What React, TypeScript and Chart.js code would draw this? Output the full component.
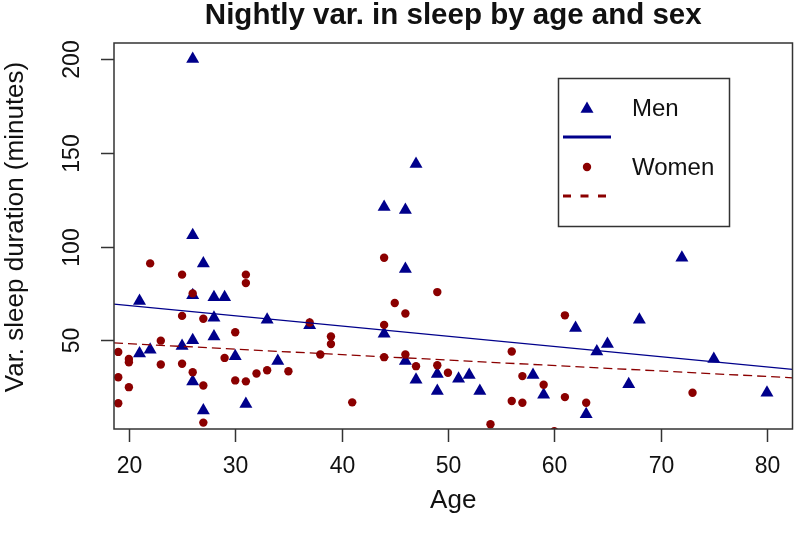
import React, { useEffect, useRef } from "react";
import { Chart, registerables } from "chart.js";

Chart.register(...registerables);

// ---- Data ----
const menAge = [26, 26, 27, 21, 26, 28, 29, 28, 33, 37, 28, 26, 25, 21, 22, 30, 34, 26, 27, 31,
  47, 44, 46, 46, 44, 46, 47, 49, 51, 52, 49, 53, 58, 59, 62, 63, 72, 68, 65, 64, 75, 67, 80];
const menVar = [200, 106, 91, 71, 74, 73, 73, 62, 61, 58, 52, 50, 47, 43, 45, 41.5, 39, 28, 12.5, 16,
  144, 121, 119.5, 88, 53.5, 39, 29, 32, 29.5, 31.5, 23, 23, 31.5, 21, 56.5, 10.5, 94, 61, 48, 44, 40, 26.5, 22];
const womenAge = [22, 25, 31, 31, 26, 25, 27, 30, 39, 39, 23, 19, 20, 20, 23, 25, 29, 38, 26, 35, 33, 32, 19, 30, 31, 27, 20, 19, 27, 37,
  44, 49, 45, 46, 44, 44, 46, 47, 49, 50, 41, 54, 56, 57, 59, 56, 57, 61, 61, 63, 73, 60];
const womenVar = [91, 85, 85, 80.5, 75, 63, 61.5, 54.3, 52, 48, 49.8, 43.8, 40, 38.3, 37.1, 37.5, 40.6, 42.4, 33, 33.5, 34, 32.3, 30.3, 28.6, 28.1, 25.9, 25, 16.4, 6.1, 59.5,
  94, 75.7, 69.9, 64.3, 58.2, 41, 42.4, 36.2, 36.7, 32.7, 16.9, 5.2, 44, 30.9, 26.3, 17.6, 16.7, 19.7, 63.3, 16.7, 22, 1.5];
const fitAge = [18.6, 82.4];
const menFit = [69.3, 34.5];
const womenFit = [48.6, 30.0];
const xTicks = [20, 30, 40, 50, 60, 70, 80];
const yTicks = [50, 100, 150, 200];
const titleText = "Nightly var. in sleep by age and sex";
const xTitle = "Age";
const yTitle = "Var. sleep duration (minutes)";
const legendLabels = ["Men", "Women"];

const MEN = "#00008B";
const WOMEN = "#8B0000";
const FONT = '"Liberation Sans", Arial, sans-serif';

const rPlot = {
  id: "rPlot",
  afterDraw(chart: any) {
    const { ctx, chartArea: a, scales } = chart;
    const x = scales.x;
    const y = scales.y;
    ctx.save();
    // box
    ctx.strokeStyle = "#333";
    ctx.lineWidth = 1.5;
    ctx.strokeRect(a.left, a.top, a.right - a.left, a.bottom - a.top);
    ctx.fillStyle = "#111";
    ctx.font = `23px ${FONT}`;
    ctx.textAlign = "center";
    ctx.textBaseline = "middle";
    // x ticks
    xTicks.forEach((v) => {
      const px = Math.round(x.getPixelForValue(v)) + 0.5;
      ctx.beginPath();
      ctx.moveTo(px, a.bottom);
      ctx.lineTo(px, a.bottom + 13);
      ctx.stroke();
      ctx.fillText(String(v), px, 467);
    });
    // y ticks
    yTicks.forEach((v) => {
      const py = Math.round(y.getPixelForValue(v)) + 0.5;
      ctx.beginPath();
      ctx.moveTo(a.left, py);
      ctx.lineTo(a.left - 13, py);
      ctx.stroke();
      ctx.save();
      ctx.translate(73, py);
      ctx.rotate(-Math.PI / 2);
      ctx.fillText(String(v), 0, 0);
      ctx.restore();
    });
    // axis titles
    const cx = (a.left + a.right) / 2;
    ctx.font = `26px ${FONT}`;
    ctx.fillText(xTitle, cx, 501);
    ctx.save();
    ctx.translate(16, 227);
    ctx.rotate(-Math.PI / 2);
    ctx.fillText(yTitle, 0, 0);
    ctx.restore();
    // title
    ctx.font = `bold 29.5px ${FONT}`;
    ctx.fillText(titleText, cx, 16);
    // legend
    ctx.strokeStyle = "#333";
    ctx.lineWidth = 1.5;
    ctx.strokeRect(558.5, 78.5, 171, 148);
    const tri = (cxp: number, cyp: number, r: number) => {
      ctx.beginPath();
      ctx.moveTo(cxp, cyp - r);
      ctx.lineTo(cxp + r * Math.sin(Math.PI / 3), cyp + r / 2);
      ctx.lineTo(cxp - r * Math.sin(Math.PI / 3), cyp + r / 2);
      ctx.closePath();
      ctx.fill();
    };
    ctx.fillStyle = MEN;
    tri(587, 109, 7.5);
    ctx.strokeStyle = MEN;
    ctx.lineWidth = 3;
    ctx.beginPath();
    ctx.moveTo(563, 137);
    ctx.lineTo(611, 137);
    ctx.stroke();
    ctx.fillStyle = WOMEN;
    ctx.beginPath();
    ctx.arc(587, 167, 4.2, 0, Math.PI * 2);
    ctx.fill();
    ctx.strokeStyle = WOMEN;
    ctx.setLineDash([8, 9.5]);
    ctx.beginPath();
    ctx.moveTo(563, 196);
    ctx.lineTo(609, 196);
    ctx.stroke();
    ctx.setLineDash([]);
    ctx.fillStyle = "#111";
    ctx.textAlign = "left";
    ctx.font = `24px ${FONT}`;
    ctx.fillText(legendLabels[0], 632, 109);
    ctx.fillText(legendLabels[1], 632, 168);
    ctx.restore();
  },
};

export default function App() {
  const ref = useRef<HTMLCanvasElement | null>(null);
  useEffect(() => {
    if (!ref.current) return;
    const chart = new Chart(ref.current, {
      type: "scatter",
      data: {
        datasets: [
          {
            label: legendLabels[0],
            data: menAge.map((a, i) => ({ x: a, y: menVar[i] })),
            pointStyle: "triangle",
            pointRadius: 7.5,
            backgroundColor: MEN,
            borderWidth: 0,
            order: 4,
          } as any,
          {
            label: legendLabels[1],
            data: womenAge.map((a, i) => ({ x: a, y: womenVar[i] })),
            pointStyle: "circle",
            pointRadius: 4.2,
            backgroundColor: WOMEN,
            borderWidth: 0,
            order: 3,
          } as any,
          {
            label: "men fit",
            type: "line",
            data: fitAge.map((a, i) => ({ x: a, y: menFit[i] })),
            borderColor: MEN,
            borderWidth: 1.3,
            pointRadius: 0,
            order: 2,
          } as any,
          {
            label: "women fit",
            type: "line",
            data: fitAge.map((a, i) => ({ x: a, y: womenFit[i] })),
            borderColor: WOMEN,
            borderWidth: 1.3,
            borderDash: [9, 5],
            pointRadius: 0,
            order: 1,
          } as any,
        ],
      },
      options: {
        responsive: false,
        animation: false,
        devicePixelRatio: 1,
        layout: { padding: { left: 114, right: 1, top: 43, bottom: 122 } },
        scales: {
          x: { type: "linear", min: 18.6, max: 82.4, display: false },
          y: { type: "linear", min: 2.7, max: 208.5, display: false },
        },
        plugins: {
          legend: { display: false },
          title: { display: false },
          tooltip: { enabled: false },
        },
      },
      plugins: [rPlot],
    });
    return () => chart.destroy();
  }, []);
  return (
    <div style={{ position: "absolute", left: 0, top: 0, width: 800, height: 551, background: "#fff" }}>
      <canvas ref={ref} width={800} height={551} />
    </div>
  );
}
